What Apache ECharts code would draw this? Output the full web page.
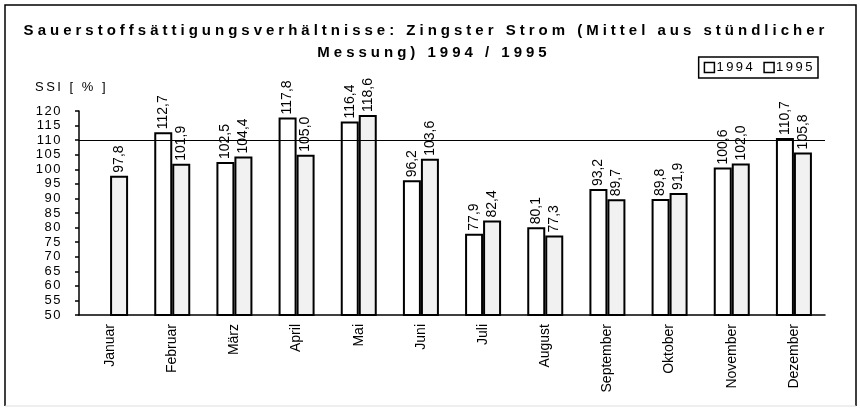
<!DOCTYPE html>
<html>
<head>
<meta charset="utf-8">
<script src="https://cdn.jsdelivr.net/npm/echarts@6/dist/echarts.min.js"></script>
<style>
  html, body { margin: 0; padding: 0; background: #fff; }
  #chart { width: 860px; height: 411px; }
</style>
</head>
<body>
<div id="chart"></div>
<script>
  // Monate und Messwerte (SSI in %)
  const months = ['Januar', 'Februar', 'März', 'April', 'Mai', 'Juni', 'Juli',
    'August', 'September', 'Oktober', 'November', 'Dezember'];
  const ssi1994 = [null, 112.7, 102.5, 117.8, 116.4, 96.2, 77.9, 80.1, 93.2, 89.8, 100.6, 110.7];
  const ssi1995 = [97.8, 101.9, 104.4, 105.0, 118.6, 103.6, 82.4, 77.3, 89.7, 91.9, 102.0, 105.8];
  const yTicks = [50, 55, 60, 65, 70, 75, 80, 85, 90, 95, 100, 105, 110, 115, 120];
  const refLine = 110;

  // gesperrte Schrift wie im Original:
  // "Liberation Sans" bold = Titel, "Liberation Sans" = Legende/Achsenname, "Helvetica" = y-Werte
  const origFillText = CanvasRenderingContext2D.prototype.fillText;
  CanvasRenderingContext2D.prototype.fillText = function (t, x, y, w) {
    const f = this.font || '';
    if ('letterSpacing' in this) {
      if (f.indexOf('bold') >= 0 && f.indexOf('Liberation') >= 0) this.letterSpacing = '4px';
      else if (f.indexOf('Liberation') >= 0) this.letterSpacing = '2.5px';
      else if (f.indexOf('Helvetica') >= 0) this.letterSpacing = '1.5px';
      else this.letterSpacing = '0px';
    }
    return w === undefined ? origFillText.call(this, t, x, y) : origFillText.call(this, t, x, y, w);
  };

  const fmt = p => p.value == null ? '' : p.value.toFixed(1).replace('.', ',');

  const chart = echarts.init(document.getElementById('chart'));
  const option = {
    animation: false,
    backgroundColor: '#fff',
    graphic: [
      {
        type: 'polyline', silent: true,
        shape: { points: [[5, 406], [5, 5], [856, 5], [856, 406]] },
        style: { stroke: '#000', lineWidth: 1.5, fill: null }
      },
      {
        type: 'line', silent: true,
        shape: { x1: 5, y1: 406, x2: 856, y2: 406 },
        style: { stroke: '#ddd', lineWidth: 1 }
      },
      {
        type: 'text', x: 426, y: 31,
        style: {
          text: 'Sauerstoffsättigungsverhältnisse: Zingster Strom (Mittel aus stündlicher',
          textAlign: 'center', textVerticalAlign: 'middle',
          font: 'bold 15px "Liberation Sans"', fill: '#000'
        }
      },
      {
        type: 'text', x: 434, y: 53,
        style: {
          text: 'Messung) 1994 / 1995',
          textAlign: 'center', textVerticalAlign: 'middle',
          font: 'bold 15px "Liberation Sans"', fill: '#000'
        }
      },
      {
        type: 'text', x: 35, y: 87,
        style: {
          text: 'SSI [ % ]', textAlign: 'left', textVerticalAlign: 'middle',
          font: '13px "Liberation Sans"', fill: '#000'
        }
      }
    ],
    legend: {
      right: 42,
      top: 57,
      orient: 'horizontal',
      itemWidth: 10,
      itemHeight: 10,
      itemGap: 18,
      padding: [4, 13, 4, 5],
      borderColor: '#000',
      borderWidth: 1.5,
      icon: 'rect',
      textStyle: { fontFamily: 'Liberation Sans', fontSize: 13, color: '#000', padding: [0, 0, 0, -3] },
      data: [
        { name: '1994', itemStyle: { color: '#fff', borderColor: '#000', borderWidth: 1.5 } },
        { name: '1995', itemStyle: { color: '#fff', borderColor: '#000', borderWidth: 1.5 } }
      ]
    },
    grid: { left: 79, right: 35, top: 111, bottom: 96 },
    xAxis: {
      type: 'category',
      data: months,
      axisLine: { lineStyle: { color: '#000', width: 1.5 } },
      axisTick: { show: false },
      axisLabel: { rotate: 90, margin: 9, color: '#000', fontFamily: 'Arial', fontSize: 14 }
    },
    yAxis: {
      type: 'value',
      min: yTicks[0],
      max: yTicks[yTicks.length - 1],
      interval: 5,
      splitLine: { show: false },
      axisLine: { show: true, lineStyle: { color: '#000', width: 1.5 } },
      axisTick: { show: true, length: 4, lineStyle: { color: '#000', width: 1.5 } },
      axisLabel: { margin: 17, color: '#000', fontFamily: 'Helvetica', fontSize: 13 }
    },
    series: [
      {
        name: '1994',
        type: 'bar',
        data: ssi1994,
        barWidth: 18,
        barGap: '0%',
        itemStyle: { color: '#fff', borderColor: '#000', borderWidth: 2 },
        label: {
          show: true, position: 'top', rotate: 90, distance: 3,
          align: 'left', verticalAlign: 'middle',
          fontFamily: 'Arial', fontSize: 14, color: '#000', formatter: fmt
        },
        markLine: {
          silent: true,
          symbol: 'none',
          label: { show: false },
          lineStyle: { color: '#000', width: 1, type: 'solid' },
          data: [{ yAxis: refLine }]
        }
      },
      {
        name: '1995',
        type: 'bar',
        data: ssi1995,
        barWidth: 18,
        itemStyle: { color: '#f1f1f1', borderColor: '#000', borderWidth: 2 },
        label: {
          show: true, position: 'top', rotate: 90, distance: 3,
          align: 'left', verticalAlign: 'middle',
          fontFamily: 'Arial', fontSize: 14, color: '#000', formatter: fmt
        }
      }
    ]
  };
  chart.setOption(option);
</script>
</body>
</html>
